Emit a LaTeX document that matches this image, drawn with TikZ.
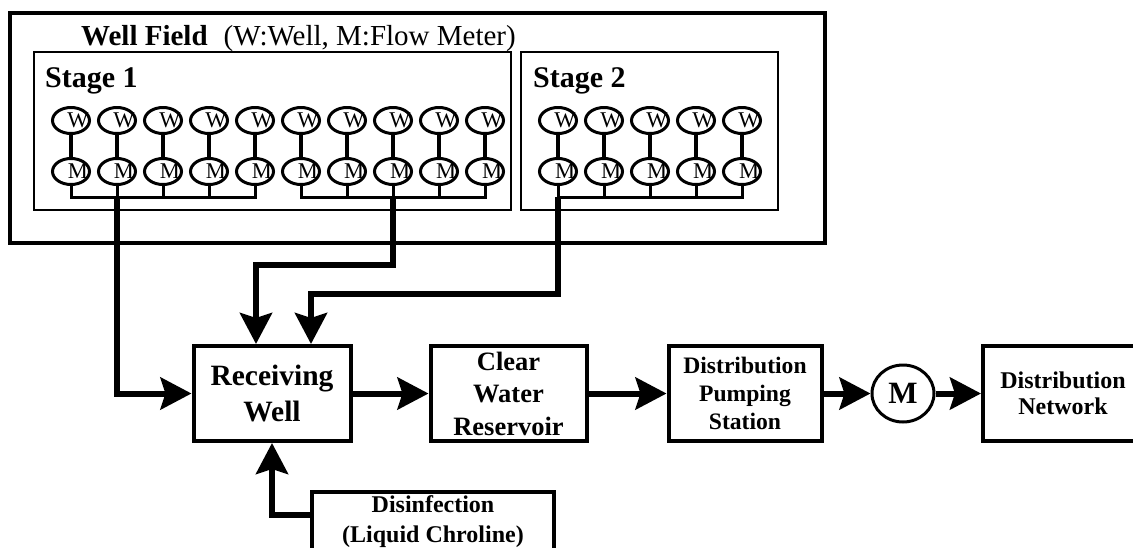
\documentclass[tikz,border=0pt]{standalone}
\usepackage{fontspec}
\setmainfont{Liberation Serif}
\usetikzlibrary{arrows.meta,shapes.geometric}
\newcommand\rsoff[1]{\hspace*{14pt}\makebox[0pt]{#1}}
\begin{document}
\begin{tikzpicture}[x=1pt,y=-1pt,
  fieldbox/.style={line width=4pt},
  stagebox/.style={line width=2pt},
  wcirc/.style={ellipse,draw,line width=3pt,minimum width=37pt,minimum height=26pt,inner sep=0pt,font=\fontsize{22.5}{22.5}\selectfont},
  wm/.style={line width=3.5pt},
  bus/.style={line width=3pt,line cap=rect},
  flow/.style={line width=6pt,-{Stealth[length=31pt,width=32pt,inset=5pt]}},
  block/.style={draw,line width=4pt,rectangle,inner sep=0pt,align=center},
  meter/.style={ellipse,draw,line width=3pt,minimum width=62pt,minimum height=57pt,inner sep=0pt,font=\fontsize{31}{31}\selectfont\bfseries}]
\fill[white] (0,0) rectangle (1133,547);
\useasboundingbox (0,0) rectangle (1133,547);
\clip (0,0) rectangle (1133,547);

% well field
\draw[fieldbox] (10,13) rectangle (825,243);
\node[anchor=base west,inner sep=0pt] (wflabel) at (81,45)
  {\fontsize{29}{34}\selectfont\textbf{Well Field}\hspace{0.55em}(W:Well, M:Flow Meter)};
\draw[stagebox] (34,52) rectangle (511,210);
\draw[stagebox] (521,52) rectangle (778,210);
\node[anchor=base west,inner sep=0pt] (st1) at (45,87) {\fontsize{30}{34}\selectfont\bfseries Stage 1};
\node[anchor=base west,inner sep=0pt] (st2) at (533,87) {\fontsize{30}{34}\selectfont\bfseries Stage 2};

\foreach \i in {0,...,9}{
  \node[wcirc] (w\i) at ({71+46*\i},120.5) {\rsoff{W}};
  \node[wcirc] (m\i) at ({71+46*\i},171.5) {\rsoff{M}};
  \coordinate (b\i) at ({71+46*\i},197);
  \draw[wm] (w\i) -- (m\i);
  \draw[bus] (m\i) -- (b\i);
}
\foreach \i in {0,...,4}{
  \node[wcirc] (v\i) at ({558+46*\i},120.5) {\rsoff{W}};
  \node[wcirc] (n\i) at ({558+46*\i},171.5) {\rsoff{M}};
  \coordinate (c\i) at ({558+46*\i},197);
  \draw[wm] (v\i) -- (n\i);
  \draw[bus] (n\i) -- (c\i);
}
\draw[bus] (b0) -- (b4);
\draw[bus] (b5) -- (b9);
\draw[bus] (c0) -- (c4);

% process blocks
\node[block,minimum width=157pt,minimum height=95pt,font=\fontsize{29.5}{36}\selectfont\bfseries] (rw) at (272,393.5) {Receiving\\Well};
\node[block,minimum width=156pt,minimum height=95pt,font=\fontsize{26.5}{32.5}\selectfont\bfseries] (cw) at (508.5,393.5) {Clear\\Water\\Reservoir};
\node[block,minimum width=153pt,minimum height=95pt,font=\fontsize{23.6}{28.3}\selectfont\bfseries] (dps) at (745,393.5) {Distribution\\Pumping\\Station};
\node[meter] (mt) at (903,393.5) {M};
\node[block,minimum width=160pt,minimum height=95pt,font=\fontsize{24}{26.5}\selectfont\bfseries] (dn) at (1063,393.5) {Distribution\\Network};
\node[block,minimum width=242pt,minimum height=60pt,font=\fontsize{24}{30}\selectfont\bfseries] (dis) at (433,522) {Disinfection\\(Liquid Chroline)};

% flows
\draw[flow] (b1) |- (rw.west);
\draw[flow] (b7) -- ++(0,68) -| ([xshift=-16pt]rw.north);
\draw[flow] (c0) -- ++(0,97) -| ([xshift=39pt]rw.north);
\draw[flow] (rw) -- (cw);
\draw[flow] (cw) -- (dps);
\draw[flow] (dps) -- (mt);
\draw[flow] (mt) -- (dn);
\draw[flow] (dis.north west) ++(0,25) -| (rw.south);
\end{tikzpicture}
\end{document}
